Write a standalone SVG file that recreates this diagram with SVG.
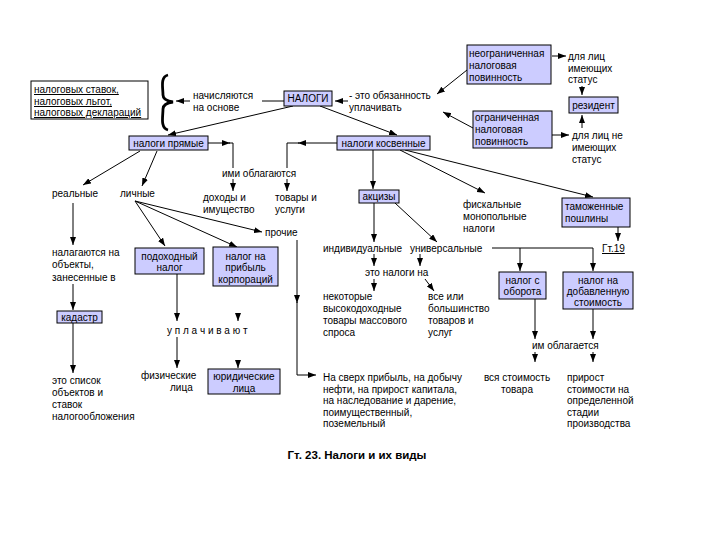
<svg xmlns="http://www.w3.org/2000/svg" width="720" height="540" viewBox="0 0 720 540">
<defs>
<marker id="ah" markerWidth="8" markerHeight="6" refX="8" refY="3" orient="auto" markerUnits="userSpaceOnUse">
<path d="M0,0 L8,3 L0,6 z" fill="#000"/>
</marker>
<style>
text{font-family:"Liberation Sans",Arial,sans-serif;font-size:10px;fill:#000}
.box{fill:#ccccff;stroke:#000;stroke-width:1}
.wbox{fill:#fff;stroke:#000;stroke-width:1}
.c{text-anchor:middle}
.u{text-decoration:underline}
.cn line,.cn path{stroke:#000;stroke-width:1;fill:none}
.a{marker-end:url(#ah)}
.cap{font-weight:bold;font-size:11.5px}
</style>
</defs>
<rect width="720" height="540" fill="#fff"/>

<g id="connectors" class="cn">
<line class="a" x1="190" y1="101" x2="176" y2="101"/>
<line x1="262" y1="101" x2="284" y2="101"/>
<line class="a" x1="348" y1="101" x2="335" y2="101"/>
<line class="a" x1="467" y1="70" x2="437" y2="94"/>
<line class="a" x1="473" y1="128" x2="443" y2="112"/>
<line class="a" x1="552" y1="56" x2="566" y2="56"/>
<line class="a" x1="582" y1="86" x2="582" y2="95"/>
<line class="a" x1="552" y1="135" x2="569" y2="135"/>
<line class="a" x1="582" y1="128" x2="582" y2="115"/>
<line class="a" x1="293" y1="106" x2="168" y2="135"/>
<line class="a" x1="320" y1="106" x2="397" y2="135"/>
<line class="a" x1="208" y1="143" x2="230" y2="143"/>
<path d="M229,143 L233,143 L233,168"/>
<line class="a" x1="233" y1="179" x2="233" y2="191"/>
<line class="a" x1="337" y1="143" x2="298" y2="143"/>
<path d="M299,143 L287,143 L287,168"/>
<line class="a" x1="287" y1="179" x2="287" y2="191"/>
<line class="a" x1="140" y1="151" x2="83" y2="185"/>
<line class="a" x1="157" y1="151" x2="142" y2="186"/>
<line class="a" x1="135" y1="201" x2="165" y2="246"/>
<line class="a" x1="135" y1="201" x2="237" y2="247"/>
<line class="a" x1="135" y1="201" x2="262" y2="232"/>
<line class="a" x1="297" y1="240" x2="297" y2="303"/>
<path class="a" d="M297,302 L297,375 L316,375"/>
<line class="a" x1="73" y1="203" x2="73" y2="245"/>
<line class="a" x1="73" y1="284" x2="73" y2="310"/>
<line class="a" x1="73" y1="323" x2="73" y2="373"/>
<line class="a" x1="177" y1="274" x2="177" y2="321"/>
<line class="a" x1="177" y1="337" x2="177" y2="368"/>
<line class="a" x1="238" y1="313" x2="238" y2="321"/>
<line class="a" x1="238" y1="360" x2="238" y2="368"/>
<line class="a" x1="373" y1="150" x2="373" y2="189"/>
<line class="a" x1="400" y1="150" x2="485" y2="193"/>
<line class="a" x1="405" y1="150" x2="593" y2="197"/>
<line class="a" x1="618" y1="227" x2="618" y2="241"/>
<line class="a" x1="374" y1="203" x2="374" y2="242"/>
<line class="a" x1="395" y1="203" x2="437" y2="242"/>
<line x1="492" y1="248" x2="593" y2="248"/>
<line class="a" x1="520" y1="248" x2="520" y2="271"/>
<line class="a" x1="593" y1="248" x2="593" y2="271"/>
<line class="a" x1="374" y1="254" x2="374" y2="266"/>
<line class="a" x1="420" y1="254" x2="420" y2="266"/>
<line class="a" x1="374" y1="279" x2="374" y2="291"/>
<line class="a" x1="425" y1="279" x2="434" y2="291"/>
<line class="a" x1="535" y1="299" x2="535" y2="339"/>
<line class="a" x1="535" y1="352" x2="535" y2="362"/>
<line class="a" x1="593" y1="309" x2="593" y2="339"/>
<line class="a" x1="593" y1="352" x2="593" y2="362"/>
</g>

<g id="n-rates">
<rect class="wbox" x="31" y="81" width="117" height="38"/>
<text class="u" x="34" y="93">налоговых ставок,</text>
<text class="u" x="34" y="105">налоговых льгот,</text>
<text class="u" x="34" y="116">налоговых деклараций</text>
</g>
<g id="n-brace">
<path d="M168,75 C160,77 163,88 163,95 C163,99 166,101 173,102 C166,103 163,105 163,109 C163,116 160,128 168,130" fill="none" stroke="#000" stroke-width="2.8"/>
</g>
<g id="n-basis">
<text x="193" y="99">начисляются</text>
<text x="193" y="111">на основе</text>
</g>
<g id="n-taxes">
<rect class="box" x="284" y="91" width="48" height="15"/>
<text class="c" x="308" y="102">НАЛОГИ</text>
</g>
<g id="n-duty">
<text x="349" y="99">- это обязанность</text>
<text x="349" y="111">уплачивать</text>
</g>
<g id="n-unlimited">
<rect class="box" x="467" y="45" width="84" height="39"/>
<text x="469" y="57">неограниченная</text>
<text x="469" y="69">налоговая</text>
<text x="469" y="81">повинность</text>
</g>
<g id="n-status">
<text x="568" y="60">для лиц</text>
<text x="568" y="72">имеющих</text>
<text x="568" y="83">статус</text>
</g>
<g id="n-resident">
<rect class="box" x="569" y="97" width="49" height="16"/>
<text class="c" x="593.5" y="109">резидент</text>
</g>
<g id="n-limited">
<rect class="box" x="473" y="111" width="79" height="37"/>
<text x="475" y="121">ограниченная</text>
<text x="475" y="133">налоговая</text>
<text x="475" y="145">повинность</text>
</g>
<g id="n-nostatus">
<text x="572" y="139">для лиц не</text>
<text x="572" y="151">имеющих</text>
<text x="572" y="163">статус</text>
</g>
<g id="n-direct">
<rect class="box" x="129" y="136" width="79" height="14"/>
<text class="c" x="168.5" y="147">налоги прямые</text>
</g>
<g id="n-indirect">
<rect class="box" x="337" y="136" width="93" height="14"/>
<text class="c" x="383.5" y="147">налоги косвенные</text>
</g>
<g id="n-taxed">
<text x="222" y="177">ими облагаются</text>
</g>
<g id="n-income">
<text x="203" y="201">доходы и</text>
<text x="203" y="213">имущество</text>
</g>
<g id="n-goods">
<text x="275" y="201">товары и</text>
<text x="275" y="213">услуги</text>
</g>
<g id="n-real"><text x="52" y="197">реальные</text></g>
<g id="n-personal"><text x="120" y="197">личные</text></g>
<g id="n-levied">
<text x="52" y="256">налагаются на</text>
<text x="52" y="268">объекты,</text>
<text x="52" y="281">занесенные в</text>
</g>
<g id="n-cadastre">
<rect class="box" x="57" y="311" width="45" height="12"/>
<text class="c" x="79.5" y="320.5">кадастр</text>
</g>
<g id="n-list">
<text x="52" y="384">это список</text>
<text x="52" y="396">объектов и</text>
<text x="52" y="408">ставок</text>
<text x="52" y="420">налогообложения</text>
</g>
<g id="n-incometax">
<rect class="box" x="135" y="248" width="69" height="26"/>
<text class="c" x="169.5" y="259.5">подоходный</text>
<text class="c" x="169.5" y="271">налог</text>
</g>
<g id="n-corptax">
<rect class="box" x="213" y="247" width="65" height="39"/>
<text class="c" x="245.5" y="259.5">налог на</text>
<text class="c" x="245.5" y="271">прибыль</text>
<text class="c" x="245.5" y="282.5">корпораций</text>
</g>
<g id="n-other"><text x="265" y="236">прочие</text></g>
<g id="n-pay"><text x="167" y="334">у п л а ч и в а ю т</text></g>
<g id="n-natural">
<text x="141" y="379">физические</text>
<text x="170" y="391">лица</text>
</g>
<g id="n-legal">
<rect class="box" x="208" y="369" width="72" height="25"/>
<text class="c" x="244" y="380">юридические</text>
<text class="c" x="244" y="391.5">лица</text>
</g>
<g id="n-excise">
<rect class="box" x="359" y="190" width="40" height="13"/>
<text class="c" x="379" y="200">акцизы</text>
</g>
<g id="n-fiscal">
<text x="463" y="208">фискальные</text>
<text x="463" y="220">монопольные</text>
<text x="463" y="232">налоги</text>
</g>
<g id="n-customs">
<rect class="box" x="562" y="198" width="68" height="29"/>
<text x="565" y="210">таможенные</text>
<text x="565" y="222">пошлины</text>
</g>
<g id="n-art19"><text class="u" x="602" y="252">Гт.19</text></g>
<g id="n-individual"><text x="323" y="252">индивидуальные</text></g>
<g id="n-universal"><text x="410" y="252">универсальные</text></g>
<g id="n-these"><text x="365" y="276">это налоги на</text></g>
<g id="n-some">
<text x="323" y="300">некоторые</text>
<text x="323" y="312">высокодоходные</text>
<text x="323" y="324">товары массового</text>
<text x="323" y="336">спроса</text>
</g>
<g id="n-all">
<text x="428" y="300">все или</text>
<text x="428" y="312">большинство</text>
<text x="428" y="324">товаров и</text>
<text x="428" y="336">услуг</text>
</g>
<g id="n-turnover">
<rect class="box" x="499" y="272" width="47" height="27"/>
<text class="c" x="522.5" y="284">налог с</text>
<text class="c" x="522.5" y="295">оборота</text>
</g>
<g id="n-vat">
<rect class="box" x="563" y="272" width="70" height="37"/>
<text class="c" x="598" y="284">налог на</text>
<text class="c" x="598" y="295">добавленную</text>
<text class="c" x="598" y="306">стоимость</text>
</g>
<g id="n-ittaxed"><text x="532" y="349">им облагается</text></g>
<g id="n-excess">
<text x="323" y="381">На сверх прибыль, на добычу</text>
<text x="323" y="393">нефти, на прирост капитала,</text>
<text x="323" y="404">на наследование и дарение,</text>
<text x="323" y="416">поимущественный,</text>
<text x="323" y="427">поземельный</text>
</g>
<g id="n-wholevalue">
<text class="c" x="517" y="381">вся стоимость</text>
<text class="c" x="517" y="393">товара</text>
</g>
<g id="n-increment">
<text x="567" y="381">прирост</text>
<text x="567" y="393">стоимости на</text>
<text x="567" y="404">определенной</text>
<text x="567" y="416">стадии</text>
<text x="567" y="427">производства</text>
</g>
<g id="caption"><text class="c cap" x="357" y="459">Гт. 23. Налоги и их виды</text></g>
</svg>
